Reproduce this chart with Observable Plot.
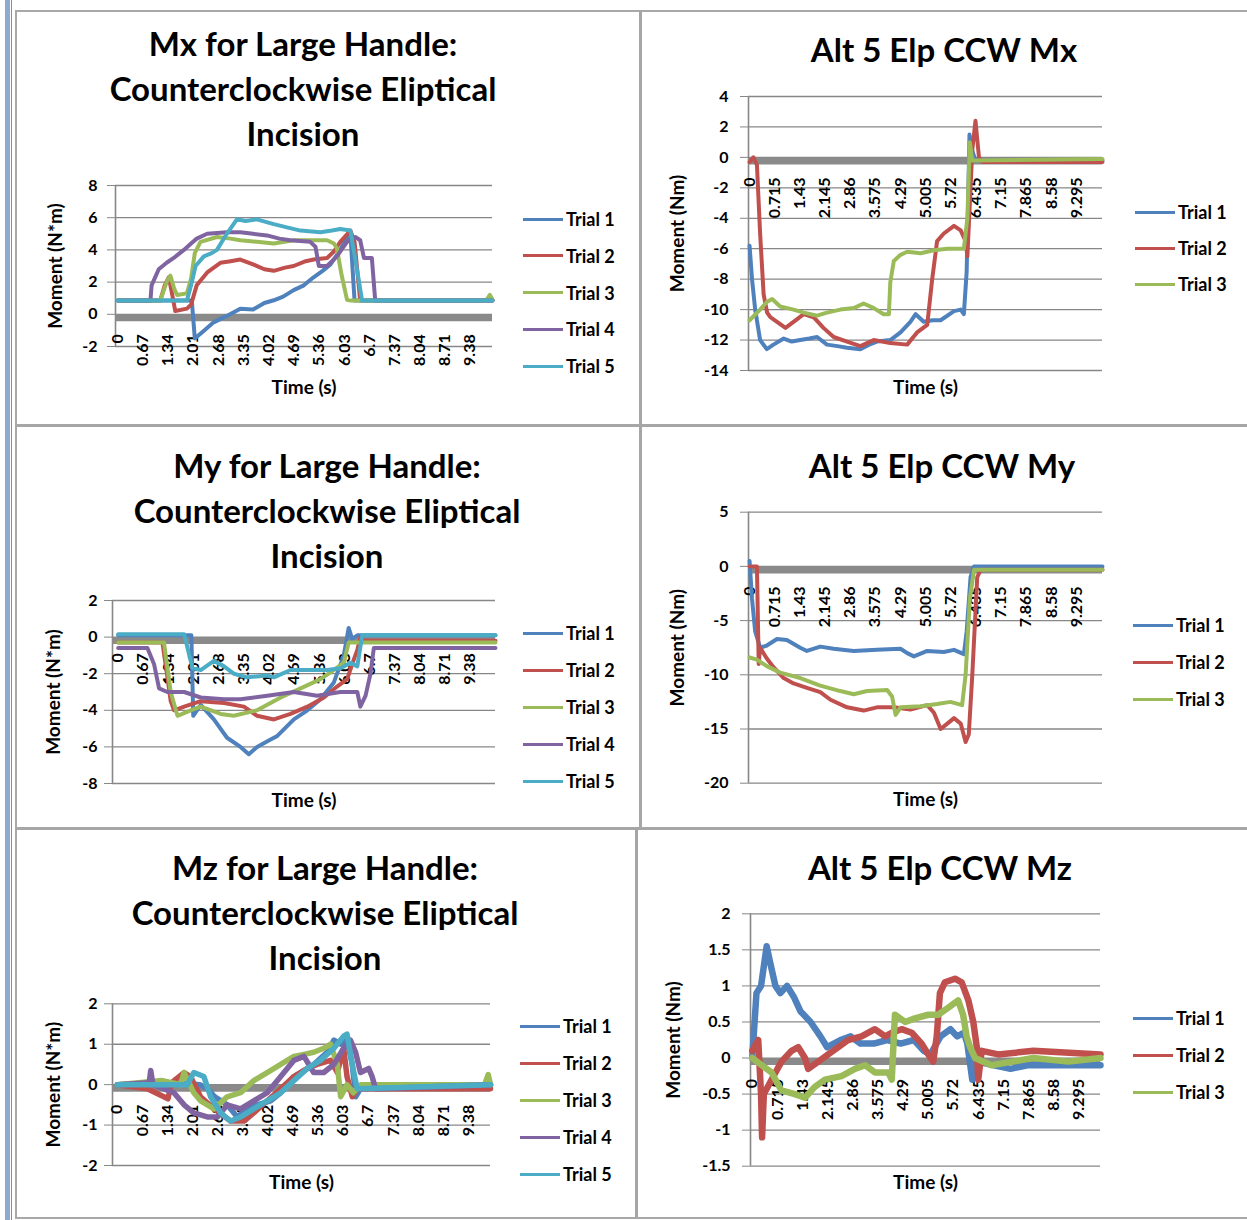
<!DOCTYPE html>
<html><head><meta charset="utf-8">
<script src="https://cdn.jsdelivr.net/npm/d3@7"></script>
<script src="https://cdn.jsdelivr.net/npm/@observablehq/plot@0.6"></script>
<style>
body{margin:0;background:#fff;}
#fig{position:relative;width:1247px;height:1220px;overflow:hidden;font-family:Lato,"Open Sans",sans-serif;font-weight:bold;color:#000;}
.abs{position:absolute;}
.title{position:absolute;width:600px;text-align:center;font-size:33px;line-height:45px;font-weight:bold;white-space:nowrap;}
.legtxt{position:absolute;font-size:18px;line-height:20px;font-weight:bold;white-space:nowrap;}
.legline{position:absolute;height:3px;}
svg{position:absolute;overflow:visible;}
</style></head>
<body><div id="fig"></div>
<script>
// ---------- tick labels ----------
const xTicksLarge = [0,0.67,1.34,2.01,2.68,3.35,4.02,4.69,5.36,6.03,6.7,7.37,8.04,8.71,9.38];
const xLabelsLarge = ["0","0.67","1.34","2.01","2.68","3.35","4.02","4.69","5.36","6.03","6.7","7.37","8.04","8.71","9.38"];
const xTicksAlt = [0,0.715,1.43,2.145,2.86,3.575,4.29,5.005,5.72,6.435,7.15,7.865,8.58,9.295];
const xLabelsAlt = ["0","0.715","1.43","2.145","2.86","3.575","4.29","5.005","5.72","6.435","7.15","7.865","8.58","9.295"];
const yTicksMxL = [-2,0,2,4,6,8];
const yTicksMxA = [-14,-12,-10,-8,-6,-4,-2,0,2,4];
const yTicksMyL = [-8,-6,-4,-2,0,2];
const yTicksMyA = [-20,-15,-10,-5,0,5];
const yTicksMzL = [-2,-1,0,1,2];
const yTicksMzA = [-1.5,-1,-0.5,0,0.5,1,1.5,2];
const trialNames5 = ["Trial 1","Trial 2","Trial 3","Trial 4","Trial 5"];
const trialNames3 = ["Trial 1","Trial 2","Trial 3"];

// ---------- series: [time (s), moment] ----------
const mxL_T1 = [[0,0.85],[1.97,0.85],[2.05,-1.5],[2.3,-1.0],[2.55,-0.5],[2.9,-0.1],[3.26,0.35],[3.6,0.3],[3.9,0.7],[4.15,0.87],[4.4,1.1],[4.68,1.5],[4.95,1.8],[5.21,2.3],[5.45,2.7],[5.66,3.1],[5.92,4.0],[6.14,5.0],[6.2,4.6],[6.3,0.85],[9.97,0.85]];
const mxL_T2 = [[0,0.85],[1.13,0.85],[1.25,1.8],[1.36,2.3],[1.45,1.2],[1.53,0.2],[1.84,0.35],[1.95,0.6],[2.1,1.8],[2.38,2.6],[2.73,3.2],[3.0,3.3],[3.26,3.4],[3.6,3.1],[3.9,2.8],[4.15,2.7],[4.45,2.9],[4.68,3.0],[5.0,3.3],[5.21,3.4],[5.57,3.5],[5.75,3.9],[5.92,4.5],[6.19,5.2],[6.3,4.5],[6.45,0.85],[9.97,0.85]];
const mxL_T3 = [[0,0.85],[1.13,0.85],[1.3,2.0],[1.4,2.4],[1.5,1.6],[1.58,1.2],[1.84,1.3],[1.95,2.2],[2.05,3.8],[2.2,4.5],[2.64,4.8],[3.0,4.7],[3.26,4.6],[3.7,4.5],[4.15,4.4],[4.68,4.6],[5.2,4.6],[5.57,4.6],[5.75,4.4],[5.83,4.1],[5.95,2.5],[6.1,0.9],[6.2,0.85],[9.8,0.85],[9.9,1.2],[9.97,0.9]];
const mxL_T4 = [[0,0.85],[0.87,0.85],[0.9,1.8],[1.09,2.8],[1.3,3.2],[1.49,3.5],[1.76,4.0],[1.95,4.4],[2.1,4.7],[2.38,5.0],[2.9,5.1],[3.26,5.1],[3.6,5.0],[3.97,4.9],[4.3,4.7],[4.59,4.6],[5.12,4.5],[5.26,4.2],[5.35,3.0],[5.57,3.0],[5.83,3.6],[6.1,4.5],[6.32,4.8],[6.45,4.6],[6.55,3.5],[6.76,3.5],[6.85,0.85],[9.97,0.85]];
const mxL_T5 = [[0,0.85],[1.84,0.85],[1.95,1.8],[2.07,3.0],[2.29,3.6],[2.5,3.8],[2.64,4.0],[2.9,5.0],[3.17,5.9],[3.4,5.8],[3.7,5.9],[4.15,5.6],[4.5,5.4],[4.86,5.2],[5.39,5.1],[5.7,5.2],[5.92,5.3],[6.19,5.2],[6.35,3.0],[6.5,0.85],[9.97,0.85]];

const mxA_T1 = [[0,-5.8],[0.07,-8],[0.16,-10],[0.3,-12],[0.49,-12.6],[0.68,-12.3],[0.97,-11.9],[1.2,-12.1],[1.44,-12.0],[1.7,-11.9],[1.92,-11.8],[2.2,-12.3],[2.5,-12.4],[2.77,-12.5],[3.15,-12.6],[3.4,-12.3],[3.62,-12.1],[4.0,-12.0],[4.29,-11.5],[4.57,-10.8],[4.72,-10.3],[4.95,-10.8],[5.2,-10.7],[5.43,-10.7],[5.81,-10.1],[6.0,-10.0],[6.09,-10.3],[6.17,-7.5],[6.25,1.5],[6.32,0.5],[6.42,-0.2],[10.03,-0.2]];
const mxA_T2 = [[0,-0.3],[0.11,0.0],[0.21,-0.5],[0.3,-5],[0.4,-9],[0.5,-10.2],[0.59,-10.5],[0.78,-10.8],[1.02,-11.2],[1.25,-10.8],[1.54,-10.3],[1.82,-10.5],[2.1,-11.2],[2.39,-11.8],[2.77,-12.1],[3.15,-12.4],[3.53,-12.0],[4.0,-12.2],[4.48,-12.3],[4.76,-11.5],[5.05,-11.0],[5.19,-8],[5.33,-5.5],[5.52,-5.0],[5.81,-4.5],[6.0,-4.8],[6.14,-5.5],[6.19,-6.5],[6.33,0.5],[6.42,2.4],[6.52,0.0],[6.61,-0.3],[10.03,-0.3]];
const mxA_T3 = [[0,-10.7],[0.3,-10.0],[0.49,-9.5],[0.64,-9.3],[0.87,-9.8],[1.25,-10.0],[1.54,-10.2],[1.92,-10.4],[2.2,-10.2],[2.58,-10.0],[2.96,-9.9],[3.24,-9.6],[3.53,-9.9],[3.81,-10.3],[3.96,-10.3],[4.0,-8.2],[4.1,-6.8],[4.29,-6.4],[4.48,-6.2],[4.86,-6.3],[5.24,-6.1],[5.62,-6.0],[6.09,-6.0],[6.19,-4.0],[6.26,1.0],[6.33,-0.2],[10.03,-0.1]];

const myL_T1 = [[0,0.1],[1.95,0.1],[2.0,-4.3],[2.1,-4.0],[2.2,-3.7],[2.55,-4.5],[2.9,-5.5],[3.26,-6.0],[3.48,-6.4],[3.7,-6.0],[4.06,-5.6],[4.24,-5.4],[4.68,-4.5],[5.04,-4.0],[5.39,-3.4],[5.74,-2.5],[6.01,-1.0],[6.14,0.5],[6.23,-0.1],[6.37,0.1],[10.05,0.1]];
const myL_T2 = [[0,-0.3],[1.18,-0.3],[1.3,-2.0],[1.4,-3.5],[1.49,-4.0],[1.76,-3.8],[2.2,-3.5],[2.82,-3.6],[3.35,-3.8],[3.7,-4.3],[4.15,-4.5],[4.59,-4.2],[5.04,-3.8],[5.48,-3.3],[5.83,-2.7],[6.1,-2.3],[6.23,-1.5],[6.37,-0.7],[6.45,0],[6.55,-0.2],[10.05,-0.2]];
const myL_T3 = [[0,-0.3],[1.22,-0.3],[1.4,-3.0],[1.58,-4.3],[1.93,-4.0],[2.2,-3.8],[2.73,-4.2],[3.08,-4.3],[3.7,-4.0],[4.33,-3.3],[4.86,-2.8],[5.39,-2.3],[5.74,-1.8],[6.01,-1.4],[6.14,-0.3],[10.05,-0.3]];
const myL_T4 = [[0,-0.6],[0.78,-0.6],[0.96,-1.5],[1.09,-2.8],[1.31,-3.0],[1.76,-3.0],[2.2,-3.3],[2.82,-3.4],[3.26,-3.4],[3.97,-3.2],[4.68,-3.0],[5.3,-3.2],[5.92,-3.0],[6.37,-3.0],[6.45,-3.8],[6.59,-3.2],[6.72,-2.0],[6.81,-0.6],[10.05,-0.6]];
const myL_T5 = [[0,0.15],[1.76,0.15],[1.98,-1.7],[2.2,-1.8],[2.55,-1.3],[2.82,-1.6],[3.08,-2.0],[3.44,-2.2],[3.97,-2.1],[4.15,-2.2],[4.59,-1.8],[5.21,-1.8],[5.57,-1.8],[5.92,-1.7],[6.19,-1.4],[6.37,-1.6],[6.5,0.1],[10.05,0.1]];

const myA_T1 = [[0,0.5],[0.07,-3],[0.16,-6],[0.3,-7.5],[0.49,-7.3],[0.78,-6.7],[1.06,-6.8],[1.44,-7.5],[1.63,-7.8],[2.01,-7.4],[2.39,-7.6],[2.96,-7.8],[3.62,-7.7],[4.29,-7.6],[4.48,-8.0],[4.67,-8.3],[5.05,-7.8],[5.52,-7.9],[5.81,-7.7],[6.09,-8.1],[6.17,-6],[6.28,-1],[6.38,0],[10.03,0]];
const myA_T2 = [[0,0],[0.21,0],[0.26,-9],[0.3,-7.5],[0.49,-8.5],[0.68,-9.3],[0.97,-10.3],[1.25,-10.8],[1.63,-11.2],[2.01,-11.6],[2.3,-12.3],[2.77,-13.0],[3.24,-13.3],[3.62,-13.0],[4.1,-13.0],[4.57,-13.2],[5.05,-12.8],[5.24,-13.5],[5.43,-15],[5.62,-14.5],[5.81,-14.0],[6.0,-14.5],[6.14,-16.2],[6.23,-15.5],[6.33,-10],[6.47,-1],[6.57,-0.3],[10.03,-0.3]];
const myA_T3 = [[0,-8.4],[0.21,-8.6],[0.49,-9.2],[0.87,-9.8],[1.44,-10.3],[2.01,-11.0],[2.58,-11.5],[2.96,-11.8],[3.34,-11.5],[3.91,-11.4],[4.05,-12.0],[4.15,-13.7],[4.29,-13.0],[4.86,-12.9],[5.33,-12.7],[5.71,-12.5],[6.04,-12.8],[6.14,-10],[6.26,-3],[6.38,-0.3],[10.03,-0.3]];

const mzL_T1 = [[0,0],[1.5,0.05],[2.2,0],[2.4,-0.1],[2.6,-0.3],[2.93,-0.5],[3.2,-0.8],[3.45,-0.6],[3.73,-0.5],[4.09,-0.4],[4.36,-0.2],[4.71,0.2],[5.0,0.35],[5.24,0.5],[5.6,0.8],[5.78,1.1],[5.96,1.0],[6.13,1.1],[6.27,0.5],[6.36,-0.3],[6.49,-0.1],[7.5,-0.05],[9.96,0]];
const mzL_T2 = [[0,0],[0.8,-0.1],[1.35,-0.35],[1.45,0.05],[1.78,0.3],[1.95,0.2],[2.22,-0.3],[2.58,-0.6],[3.02,-0.9],[3.38,-0.9],[3.64,-0.7],[4.0,-0.4],[4.36,-0.1],[4.71,0.2],[5.07,0.4],[5.33,0.5],[5.69,0.6],[5.87,0.3],[6.04,0.9],[6.13,0.2],[6.27,-0.3],[6.4,-0.1],[9.96,-0.1]];
const mzL_T3 = [[0,0],[1.2,0.1],[1.69,0],[1.78,0.3],[2.04,-0.2],[2.22,-0.4],[2.58,-0.6],[2.93,-0.3],[3.29,-0.2],[3.64,0.1],[4.0,0.3],[4.36,0.5],[4.71,0.7],[4.98,0.75],[5.24,0.8],[5.51,0.9],[5.69,1.0],[5.87,0.5],[5.96,-0.3],[6.13,0],[6.3,-0.2],[6.5,0],[9.8,0],[9.9,0.25],[9.96,0]];
const mzL_T4 = [[0,0],[0.85,0.05],[0.89,0.35],[0.95,0],[1.51,-0.2],[1.78,-0.5],[2.04,-0.7],[2.4,-0.8],[2.67,-0.8],[2.93,-0.5],[3.29,-0.6],[3.64,-0.4],[4.0,-0.2],[4.36,0.2],[4.71,0.6],[4.98,0.7],[5.24,0.3],[5.51,0.3],[5.78,0.5],[6.04,0.9],[6.22,1.1],[6.36,0.8],[6.49,0.3],[6.71,0.4],[6.8,0.2],[6.89,-0.1],[9.96,0]];
const mzL_T5 = [[0,0],[1.87,0],[2.04,0.3],[2.31,0.2],[2.49,-0.3],[2.76,-0.7],[3.02,-0.9],[3.29,-0.8],[3.64,-0.6],[4.0,-0.4],[4.36,-0.2],[4.71,0.1],[5.07,0.4],[5.42,0.6],[5.78,0.9],[6.04,1.2],[6.13,1.25],[6.27,0.5],[6.4,-0.1],[9.96,0]];

const mzA_T1 = [[0,0],[0.12,0.9],[0.25,1.0],[0.41,1.55],[0.52,1.3],[0.66,1.0],[0.8,0.9],[0.99,1.0],[1.18,0.85],[1.37,0.65],[1.66,0.5],[1.94,0.3],[2.13,0.15],[2.51,0.25],[2.8,0.3],[3.08,0.2],[3.46,0.2],[3.84,0.25],[4.22,0.2],[4.6,0.25],[4.88,0.1],[5.07,0.05],[5.36,0.3],[5.64,0.4],[5.83,0.3],[6.02,0.35],[6.12,0.2],[6.26,-0.3],[6.4,-0.05],[6.88,-0.1],[7.35,-0.15],[7.83,-0.1],[9.91,-0.1]];
const mzA_T2 = [[0,0.1],[0.17,0.25],[0.25,-0.5],[0.28,-1.1],[0.33,-0.5],[0.55,-0.3],[0.83,-0.05],[1.12,0.1],[1.31,0.15],[1.5,0.0],[1.59,-0.15],[1.88,-0.05],[2.16,0.05],[2.45,0.15],[2.73,0.25],[3.11,0.3],[3.49,0.4],[3.78,0.3],[3.97,0.35],[4.25,0.4],[4.54,0.35],[4.82,0.2],[5.01,0.05],[5.15,-0.05],[5.25,0.3],[5.34,0.9],[5.48,1.05],[5.77,1.1],[5.96,1.05],[6.15,0.8],[6.29,0.5],[6.39,0.15],[6.43,-0.3],[6.53,0.1],[7.0,0.05],[8.0,0.1],[9.91,0.05]];
const mzA_T3 = [[0,0],[0.27,-0.1],[0.55,-0.2],[0.83,-0.45],[1.21,-0.5],[1.5,-0.55],[1.78,-0.4],[2.07,-0.3],[2.54,-0.25],[2.92,-0.15],[3.21,-0.1],[3.49,-0.2],[3.87,-0.2],[3.97,-0.3],[4.06,0.6],[4.35,0.5],[4.63,0.55],[5.01,0.6],[5.29,0.6],[5.58,0.7],[5.86,0.8],[6.0,0.6],[6.1,0.3],[6.2,0.15],[6.34,0],[6.81,-0.1],[7.4,-0.05],[8.0,0],[9.0,-0.05],[9.91,0]];

const colors = ["#4F81BD","#C0504D","#9BBB59","#8064A2","#4BACC6"];

// ---------- layout ----------
const fig = document.getElementById("fig");
function box(x,y,w,h,c){const d=document.createElement("div");d.className="abs";Object.assign(d.style,{left:x+"px",top:y+"px",width:w+"px",height:h+"px",background:c});fig.appendChild(d);}
box(5,0,5,1220,"#8eaad2");
box(11,0,1,1220,"#8c8c8c");
box(15,10,2,1208,"#a8a8a8");
box(15,10,1232,2,"#a8a8a8");
box(639,10,3,818,"#a6a6a6");
box(635,828,3,390,"#a6a6a6");
box(15,424,1232,3,"#a6a6a6");
box(15,827,1232,3,"#a6a6a6");
box(15,1217,1232,2,"#a8a8a8");

const panels = [
  {title:["Mx for Large Handle:","Counterclockwise Eliptical","Incision"], tc:[303,21],
   cell:[17,12,622,412], plot:[115,185,492,346], xd:[-0.06,9.97], yd:[-2,8], yt:yTicksMxL,
   xt:xTicksLarge, xl:xLabelsLarge, yLabel:"Moment (N*m)", ylDx:-60, timeDy:41, tickDy:20, tickPad:10, lw:4,
   series:[mxL_T1,mxL_T2,mxL_T3,mxL_T4,mxL_T5], names:trialNames5, leg:[523,219,36.8]},
  {title:["Alt 5 Elp CCW Mx"], tc:[944,27],
   cell:[642,12,605,412], plot:[748,96,1102,370], xd:[-0.03,10.03], yd:[-14,4], yt:yTicksMxA,
   xt:xTicksAlt, xl:xLabelsAlt, yLabel:"Moment (Nm)", ylDx:-71, timeDy:17, tickDy:20, tickPad:12, lw:4,
   series:[mxA_T1,mxA_T2,mxA_T3], names:trialNames3, leg:[1135,212,36]},
  {title:["My for Large Handle:","Counterclockwise Eliptical","Incision"], tc:[327,443],
   cell:[17,427,622,400], plot:[112,600,495,783], xd:[-0.15,10.05], yd:[-8,2], yt:yTicksMyL,
   xt:xTicksLarge, xl:xLabelsLarge, yLabel:"Moment (N*m)", ylDx:-59, timeDy:17, tickDy:16, tickPad:7, lw:4,
   series:[myL_T1,myL_T2,myL_T3,myL_T4,myL_T5], names:trialNames5, leg:[523,633,37]},
  {title:["Alt 5 Elp CCW My"], tc:[942,443],
   cell:[642,427,605,400], plot:[748,511.7,1102,782.7], xd:[-0.03,10.03], yd:[-20,5], yt:yTicksMyA,
   xt:xTicksAlt, xl:xLabelsAlt, yLabel:"Moment (Nm)", ylDx:-71, timeDy:17, tickDy:20, tickPad:12, lw:4,
   series:[myA_T1,myA_T2,myA_T3], names:trialNames3, leg:[1133,625,37]},
  {title:["Mz for Large Handle:","Counterclockwise Eliptical","Incision"], tc:[325,845],
   cell:[17,830,618,387], plot:[112,1003.3,490,1165], xd:[-0.13,9.96], yd:[-2,2], yt:yTicksMzL,
   xt:xTicksLarge, xl:xLabelsLarge, yLabel:"Moment (N*m)", ylDx:-59, timeDy:17, tickDy:20, tickPad:7, lw:5.5,
   series:[mzL_T1,mzL_T2,mzL_T3,mzL_T4,mzL_T5], names:trialNames5, leg:[520,1026,37]},
  {title:["Alt 5 Elp CCW Mz"], tc:[940,845],
   cell:[638,830,609,387], plot:[750,913.3,1100,1165.7], xd:[-0.05,9.91], yd:[-1.5,2], yt:yTicksMzA,
   xt:xTicksAlt, xl:xLabelsAlt, yLabel:"Moment (Nm)", ylDx:-77, timeDy:17, tickDy:21, tickPad:12, lw:6.5,
   series:[mzA_T1,mzA_T2,mzA_T3], names:trialNames3, leg:[1133,1018,37]}
];

const fmt = d => String(d);

for (const p of panels) {
  const [cx,cy,cw,ch] = p.cell;
  const [px0,py0,px1,py1] = p.plot;
  const tickData = p.xt.map((t,i)=>({t, label:p.xl[i]}));
  const marks = [
    Plot.gridY(p.yt, {stroke:"#878787", strokeOpacity:1, strokeWidth:1.3}),
    Plot.axisY(p.yt, {tickSize:8, tickPadding:p.tickPad, stroke:"#878787", fill:"#000", tickFormat:fmt, label:null, fontSize:16}),
    Plot.ruleX([p.xd[0]], {stroke:"#878787", strokeWidth:1.6}),
    Plot.ruleY([0], {stroke:"#8a8a8a", strokeWidth:7, dy:3.5}),
    Plot.text(tickData, {x:"t", y:()=>0, text:"label", rotate:-90, textAnchor:"end", lineAnchor:"middle", dy:p.tickDy, fontSize:16, fill:"#000"}),
    ...p.series.map((s,i)=>Plot.line(s, {x:d=>d[0], y:d=>d[1], stroke:colors[i], strokeWidth:p.lw, strokeLinejoin:"round", strokeLinecap:"round"})),
    Plot.text([p.yLabel], {text:d=>d, frameAnchor:"left", textAnchor:"middle", lineAnchor:"middle", dx:p.ylDx, rotate:-90, fontSize:19, fill:"#000"}),
    Plot.text(["Time (s)"], {text:d=>d, frameAnchor:"bottom", textAnchor:"middle", lineAnchor:"middle", dy:p.timeDy, fontSize:19, fill:"#000"})
  ];
  const svg = Plot.plot({
    width:cw, height:ch,
    marginLeft:px0-cx, marginRight:cx+cw-px1, marginTop:py0-cy, marginBottom:cy+ch-py1,
    x:{domain:p.xd, axis:null},
    y:{domain:p.yd, axis:null},
    style:{fontFamily:"Lato, 'Open Sans', sans-serif", fontWeight:"bold", background:"transparent", color:"#000", overflow:"visible"},
    marks
  });
  svg.style.left = cx+"px"; svg.style.top = cy+"px";
  fig.appendChild(svg);

  const t = document.createElement("div");
  t.className = "title";
  t.style.left = (p.tc[0]-300)+"px"; t.style.top = p.tc[1]+"px";
  t.innerHTML = p.title.join("<br>");
  fig.appendChild(t);

  const [lx, ly, ls] = p.leg;
  p.names.forEach((n,i)=>{
    const y = ly + i*ls;
    const l = document.createElement("div");
    l.className = "legline";
    Object.assign(l.style,{left:lx+"px", top:(y-1.5)+"px", width:"40px", background:colors[i]});
    fig.appendChild(l);
    const tx = document.createElement("div");
    tx.className = "legtxt";
    Object.assign(tx.style,{left:(lx+43)+"px", top:(y-10)+"px"});
    tx.textContent = n;
    fig.appendChild(tx);
  });
}
</script>
</body></html>
